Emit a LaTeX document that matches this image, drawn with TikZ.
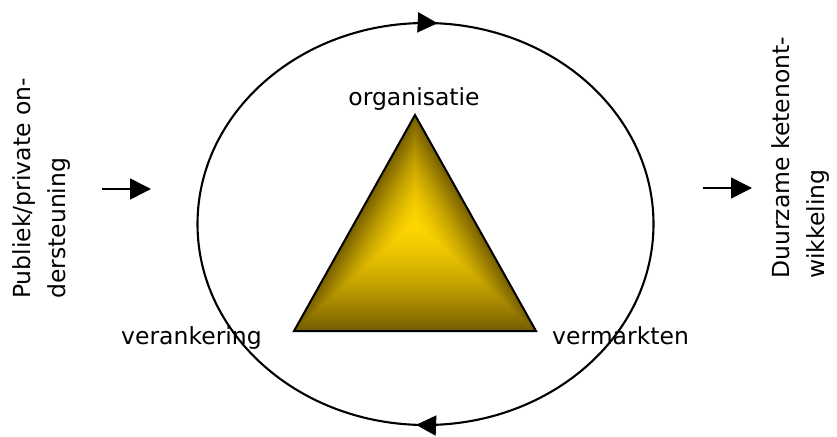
\documentclass[tikz,border=0pt]{standalone}
\usepackage{fontspec}
\setmainfont{DejaVu Sans}
\usetikzlibrary{arrows.meta,decorations.markings}
\definecolor{goldc}{RGB}{255,214,0}
\definecolor{goldd}{RGB}{118,94,0}
\begin{document}
\begin{tikzpicture}[x=1pt,y=-1pt,
  lbl/.style={font=\fontsize{23.5}{35}\selectfont, inner sep=0pt, text=black},
  sidearrow/.style={line width=1.6pt, -{Triangle[length=21pt,width=21pt]}},
  cycleline/.style={line width=2.1pt, postaction={decorate},
    decoration={markings,
      mark=at position 0.257 with {\arrow{Triangle[length=20pt,width=20pt]}},
      mark=at position 0.759 with {\arrow{Triangle[length=20pt,width=20pt]}}}}]
\fill[white] (0,0) rectangle (837,436);
\useasboundingbox (0,0) rectangle (837,436);

% cycle ellipse
\draw[cycleline] (425.5,224) ellipse [x radius=228, y radius=201];

% triangle with a from-centre gradient
\coordinate (C) at (415,223);
\coordinate (A) at (415,115);
\coordinate (BL) at (294,331);
\coordinate (BR) at (536,331);
\foreach \i in {0,...,63} {
  \pgfmathsetmacro\s{1-\i/64}
  \pgfmathsetmacro\p{100*(\s)^1.5}
  \fill[goldd!\p!goldc, shift={(C)}, scale=\s] (0,-108) -- (-121,108) -- (121,108) -- cycle;
}
\draw[line width=2pt, line join=miter] (A) -- (BL) -- (BR) -- cycle;

% labels
\node[lbl, anchor=base] (org) at (414,105) {organisatie};
\node[lbl, anchor=base west] (ver) at (121,344) {verankering};
\node[lbl, anchor=base west] (verm) at (552,344) {vermarkten};

\node[lbl, rotate=90, anchor=north west, align=left] (pub) at (12,299) {Publiek/private on-\\dersteuning};
\node[lbl, rotate=90, anchor=north west, align=left] (duur) at (771,279) {Duurzame ketenont-\\wikkeling};

% side arrows
\coordinate (l1) at (102,189);
\coordinate (l2) at (151,189);
\coordinate (r1) at (703,188);
\coordinate (r2) at (752,188);
\draw[sidearrow] (l1) -- (l2);
\draw[sidearrow] (r1) -- (r2);
\end{tikzpicture}
\end{document}
